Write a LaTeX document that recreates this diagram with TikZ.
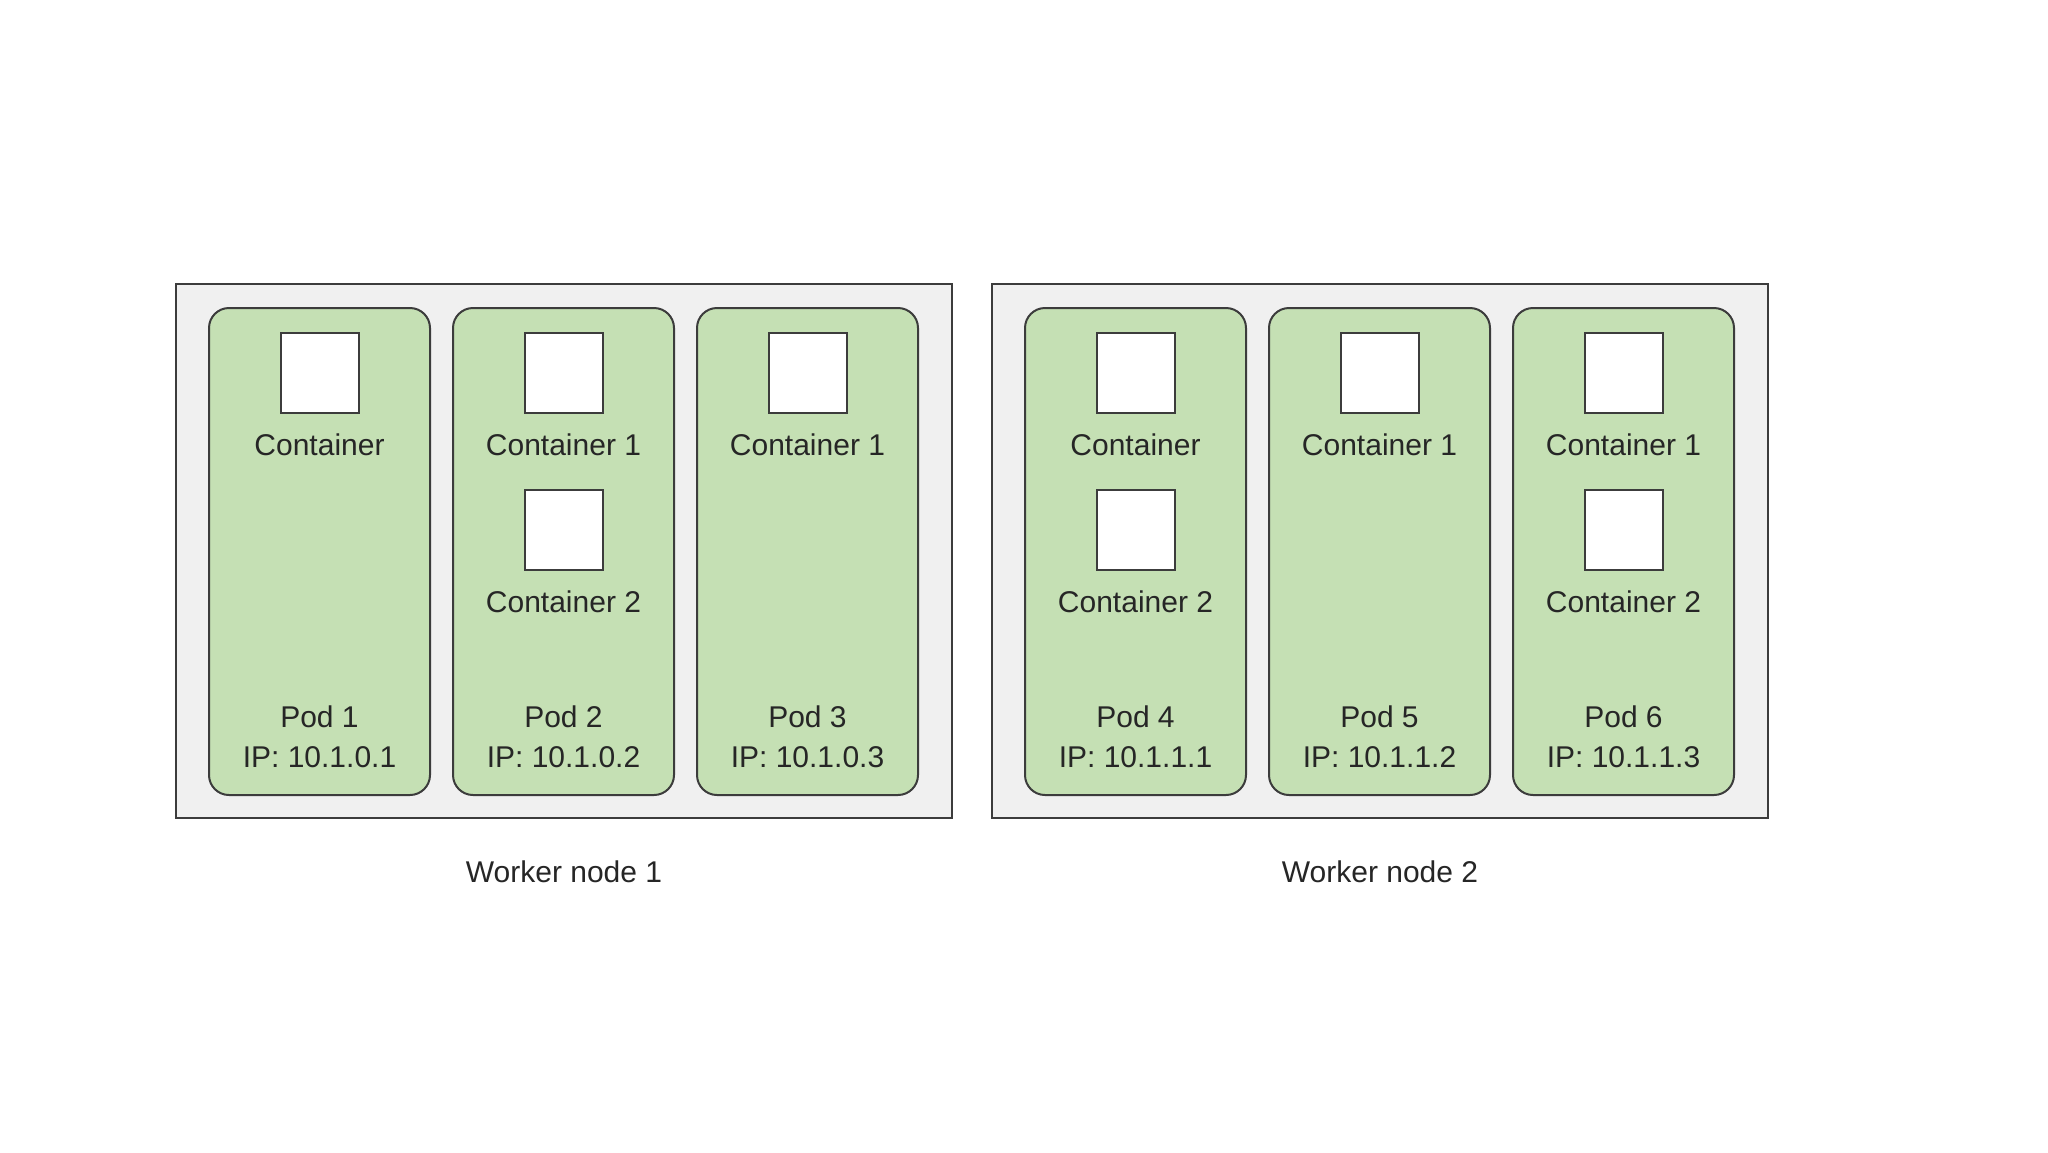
\documentclass[tikz,border=0pt]{standalone}
\usepackage{fontspec}
\setmainfont{Liberation Sans}
\definecolor{podgreen}{RGB}{197,224,180}
\definecolor{nodegray}{RGB}{240,240,240}
\definecolor{edge}{RGB}{60,60,60}
\definecolor{txt}{RGB}{38,38,38}
\begin{document}
\begin{tikzpicture}[x=1pt,y=-1pt,
  workerbox/.style={draw=edge,line width=2pt,fill=nodegray},
  podbox/.style={draw=edge,line width=2pt,fill=podgreen,rounded corners=20pt},
  ctrbox/.style={draw=edge,line width=2pt,fill=white,minimum width=78pt,minimum height=80pt,inner sep=0pt},
  lbl/.style={text=txt,font=\fontsize{30}{36}\selectfont,anchor=base,inner sep=0pt}]
\useasboundingbox (0,0) rectangle (2048,1152);
\fill[white] (0,0) rectangle (2048,1152);
% worker nodes
\draw[workerbox] (176,284) rectangle (952,818);
\draw[workerbox] (992,284) rectangle (1768,818);
\node[lbl] (w1) at (564,882) {Worker node 1};
\node[lbl] (w2) at (1380,882) {Worker node 2};
% pods
\foreach \n/\x in {1/209,2/453,3/697,4/1025,5/1269,6/1513}{
  \draw[podbox] (\x,308) rectangle ++(221,487);
}
% pod labels
\foreach \n/\x/\ip in {1/319.5/10.1.0.1,2/563.5/10.1.0.2,3/807.5/10.1.0.3,4/1135.5/10.1.1.1,5/1379.5/10.1.1.2,6/1623.5/10.1.1.3}{
  \node[lbl] (pod\n) at (\x,727) {Pod \n};
  \node[lbl] (ip\n) at (\x,767) {IP: \ip};
  \node[ctrbox] (c\n a) at (\x,373) {};
}
\node[lbl] (t1a) at (319.5,455) {Container};
\node[lbl] (t2a) at (563.5,455) {Container 1};
\node[lbl] (t3a) at (807.5,455) {Container 1};
\node[lbl] (t4a) at (1135.5,455) {Container};
\node[lbl] (t5a) at (1379.5,455) {Container 1};
\node[lbl] (t6a) at (1623.5,455) {Container 1};
\node[ctrbox] (c2b) at (563.5,530) {};
\node[ctrbox] (c4b) at (1135.5,530) {};
\node[ctrbox] (c6b) at (1623.5,530) {};
\node[lbl] (t2b) at (563.5,612) {Container 2};
\node[lbl] (t4b) at (1135.5,612) {Container 2};
\node[lbl] (t6b) at (1623.5,612) {Container 2};
\end{tikzpicture}
\end{document}
